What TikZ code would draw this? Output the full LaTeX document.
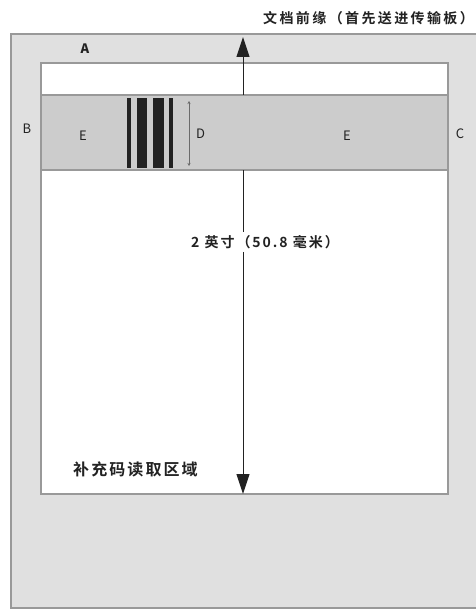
\documentclass[tikz,border=0pt]{standalone}
\usepackage{fontspec}
\setmainfont{Noto Sans CJK SC}
\newfontfamily\cjkb{Noto Sans CJK SC Bold}
\usetikzlibrary{arrows.meta,calc}
\definecolor{outerfill}{HTML}{E0E0E0}
\definecolor{bandfill}{HTML}{CCCCCC}
\definecolor{edge}{HTML}{999999}
\definecolor{ink}{HTML}{222222}
\tikzset{
  boxline/.style={draw=edge, line width=1.2pt},
  lbl/.style={inner sep=0pt, text=ink, font=\fontsize{13}{13}\selectfont},
  cjklbl/.style={inner sep=0pt, text=ink},
  bar/.style={fill=ink, draw=none},
  bigarrow/.style={draw=ink, line width=1pt, -{Triangle[length=20pt,width=13pt]}},
  smallarrow/.style={draw=edge!70!black, line width=0.6pt, {Stealth[length=3pt,width=3pt]}-{Stealth[length=3pt,width=3pt]}}
}
\begin{document}
\begin{tikzpicture}[x=1pt,y=-1pt]
\useasboundingbox (0,0) rectangle (476,610);
\clip (0,0) rectangle (476,610);
\fill[white] (0,0) rectangle (476,610);
% outer sheet
\draw[boxline, fill=outerfill] (11,34) rectangle (490,608);
% inner area
\draw[boxline, fill=white] (41,63) rectangle (448,494);
% band
\draw[boxline, fill=bandfill] (41,95) rectangle (448,170);
\coordinate (bandtop) at (243,95);
\coordinate (bandbot) at (243,170);
\coordinate (toptip) at (243,37);
\coordinate (bottip) at (243,494);
% bars
\fill[bar] (127,98) rectangle (131,168);
\fill[bar] (137,98) rectangle (147,168);
\fill[bar] (153,98) rectangle (164,168);
\fill[bar] (169,98) rectangle (173,168);
% D arrow
\coordinate (dtop) at (189,101);
\coordinate (dbot) at (189,166);
\draw[smallarrow] (dtop) -- (dbot);
% labels
\node[lbl, anchor=west] (lD) at (196,134) {D};
\node[lbl] (lE1) at (83,136) {E};
\node[lbl] (lE2) at (347,136) {E};
\node[lbl] (lB) at (27,129) {B};
\node[lbl] (lC) at (460,134) {C};
\node[lbl, font=\bfseries\fontsize{13}{13}\selectfont] (lA) at (85,49) {A};
\node[cjklbl, anchor=east, font=\cjkb\fontsize{14}{14}\selectfont\addfontfeature{LetterSpace=17}] (title) at (474,18) {文档前缘（首先送进传输板）};
\node[cjklbl, inner sep=3pt, font=\cjkb\fontsize{14}{14}\selectfont\addfontfeature{LetterSpace=14}] (dim) at (265,242) {2 英寸（50.8 毫米）};
\node[cjklbl, anchor=west, font=\cjkb\fontsize{16}{16}\selectfont\addfontfeature{LetterSpace=13}] (zone) at (73,469) {补充码读取区域};
% main arrows
\draw[bigarrow] (bandtop) -- (toptip);
\draw[draw=ink, line width=1pt] (bandbot) -- (bandbot |- dim.north);
\draw[bigarrow] (bandbot |- dim.south) -- (bottip);
\end{tikzpicture}
\end{document}
